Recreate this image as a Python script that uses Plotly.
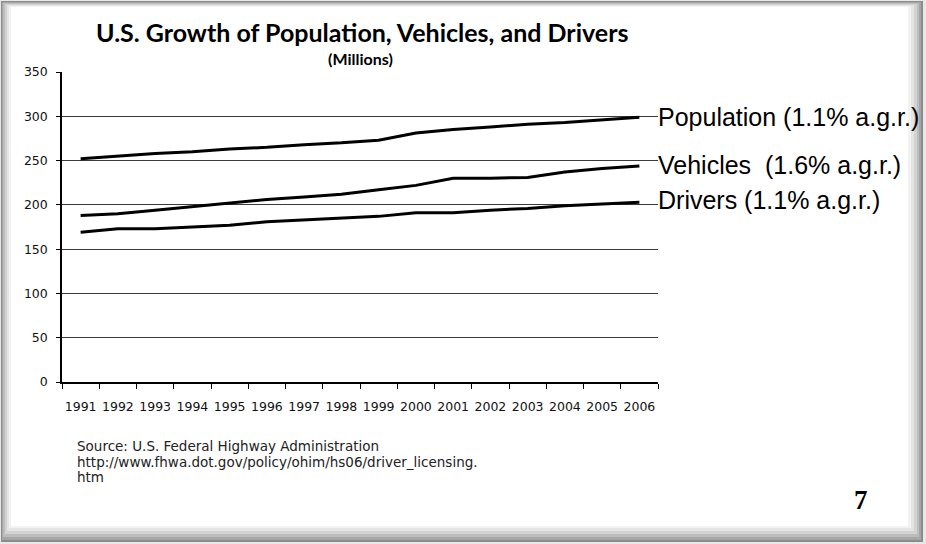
import plotly.graph_objects as go

# U.S. population, registered vehicles and licensed drivers, 1991-2006 (millions)
years = [str(y) for y in range(1991, 2007)]
population = [252, 255, 258, 260, 263, 265, 268, 270, 273, 281, 285, 288, 291, 293, 296, 299]
vehicles = [188, 190, 194, 198, 202, 206, 209, 212, 217, 222, 230, 230, 231, 237, 241, 244]
drivers = [169, 173, 173, 175, 177, 181, 183, 185, 187, 191, 191, 194, 196, 199, 201, 203]

series_labels = ["Population (1.1% a.g.r.)", "Vehicles  (1.6% a.g.r.)", "Drivers (1.1% a.g.r.)"]
y_ticks = [0, 50, 100, 150, 200, 250, 300, 350]
source_lines = [
    "Source: U.S. Federal Highway Administration",
    "http://www.fhwa.dot.gov/policy/ohim/hs06/driver_licensing.",
    "htm",
]

W, H = 926, 544
L, R, T, B = 62, 268, 72, 162
PW, PH = W - L - R, H - T - B

SANS_SMALL = "Verdana, DejaVu Sans, sans-serif"


def px(x):
    """Figure pixel x -> paper coordinate."""
    return (x - L) / PW


def py(y):
    """Figure pixel y (from top) -> paper coordinate."""
    return (H - B - y) / PH


fig = go.Figure()
for name, vals in zip(series_labels, [population, vehicles, drivers]):
    fig.add_trace(go.Scatter(
        x=years, y=vals, mode="lines", name=name,
        line=dict(color="black", width=3), showlegend=False,
        hoverinfo="x+y+name",
    ))

# slide frame with soft shadow edges
frame = [
    (1, 1, 923, 542, "#8c8c8c"),
    (2, 2, 921, 540, "#a6a6a6"),
    (3, 3, 919, 537, "#bdbdbd"),
    (5, 4, 917, 534, "#d2d2d2"),
    (7, 5, 914, 531, "#e4e4e4"),
    (9, 6, 911, 528, "#f2f2f2"),
    (11, 7, 908, 526, "#ffffff"),
]
shapes = []
for x0, y0, x1, y1, c in frame:
    shapes.append(dict(type="rect", xref="paper", yref="paper",
                       x0=px(x0), x1=px(x1), y0=py(y1), y1=py(y0),
                       fillcolor=c, line=dict(width=0), layer="below"))

annotations = [
    dict(text="<b>U.S. Growth of Population, Vehicles, and Drivers</b>",
         x=px(362), y=py(32), font=dict(family="Lato", size=25, color="black")),
    dict(text="<b>(Millions)</b>",
         x=px(360), y=py(58), font=dict(family="Lato", size=16, color="black")),
    dict(text="<b>7</b>", x=px(861), y=py(500),
         font=dict(family="Liberation Serif, Times New Roman, serif", size=27, color="black")),
]
for line, yy in zip(source_lines, [446, 462, 477]):
    annotations.append(dict(text=line, x=px(75), y=py(yy), xanchor="left",
                            font=dict(family=SANS_SMALL, size=13.5, color="#222222")))
label_y = [117, 165, 200]
for text, yy in zip(series_labels, label_y):
    annotations.append(dict(text=text, x=px(656), y=py(yy), xanchor="left",
                            font=dict(family="Liberation Sans", size=25, color="black")))
for a in annotations:
    a.setdefault("xref", "paper")
    a.setdefault("yref", "paper")
    a.setdefault("showarrow", False)
    a.setdefault("xanchor", "center")
    a.setdefault("yanchor", "middle")

fig.update_layout(
    width=W, height=H,
    margin=dict(l=L, r=R, t=T, b=B),
    paper_bgcolor="#e8e8e8",
    plot_bgcolor="rgba(0,0,0,0)",
    shapes=shapes,
    annotations=annotations,
    xaxis=dict(
        type="category", range=[-0.5, 15.5], tickson="boundaries",
        ticks="outside", ticklen=5, tickcolor="black", tickwidth=1,
        tickangle=0, ticklabelstandoff=12,
        showline=True, linecolor="black", linewidth=1.5,
        showgrid=False, zeroline=False,
        tickfont=dict(family=SANS_SMALL, size=12.5, color="#111111"),
    ),
    yaxis=dict(
        range=[0, 350], tickvals=y_ticks, ticks="outside", ticklen=4,
        tickcolor="black", showline=True, linecolor="black", linewidth=1.5,
        ticklabelstandoff=6,
        showgrid=True, gridcolor="#3a3a3a", gridwidth=1, zeroline=False,
        tickfont=dict(family=SANS_SMALL, size=12.5, color="#111111"),
    ),
)

fig.write_html("out.html")
